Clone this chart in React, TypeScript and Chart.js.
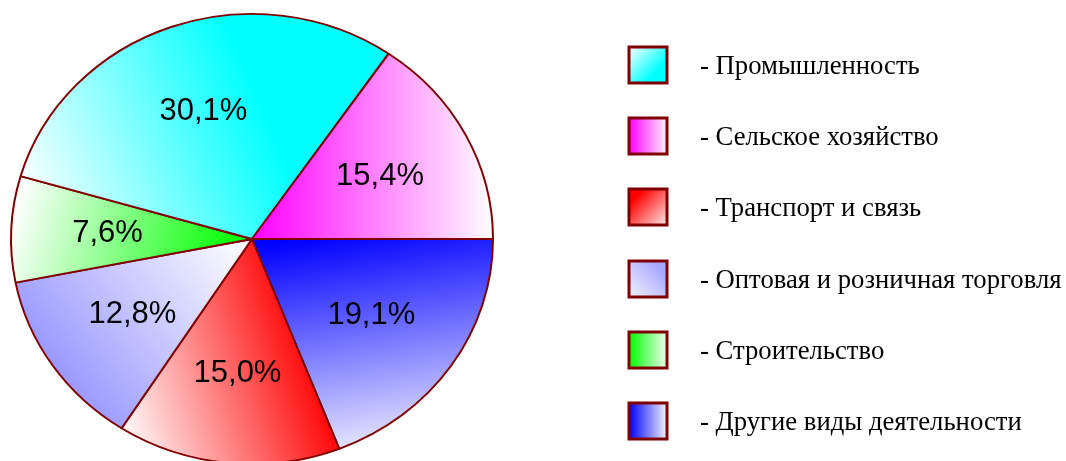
import React, { useEffect, useRef } from 'react';
import { Chart, registerables } from 'chart.js';

Chart.register(...registerables);

// ---- data (legend order) ----
const categories = [
  'Промышленность',
  'Сельское хозяйство',
  'Транспорт и связь',
  'Оптовая и розничная торговля',
  'Строительство',
  'Другие виды деятельности',
];
const shares = [30.1, 15.4, 15.0, 12.8, 7.6, 19.1];
// order in which slices are laid out clockwise from 3 o'clock
const pieOrder = [5, 2, 3, 4, 0, 1];

// ---- styles ----
const baseColors = ['#00FFFF', '#FF00FF', '#FF0000', '#9999FF', '#00FF00', '#0000FF'];
// slice gradients in units of the pie radius relative to centre: [u0, v0, c0, u1, v1, c1]
const sliceGradients: [number, number, string, number, number, string][] = [
  [-0.96, -0.22, '#FFFFFF', 0.03, -0.62, '#00FFFF'],
  [0.0, 0.0, '#FF00FF', 1.0, 0.0, '#FFFFFF'],
  [-0.53, 0.91, '#FFFFFF', 0.3, 0.65, '#FF0000'],
  [-0.05, 0.09, '#F8F8FF', -0.79, 0.62, '#9999FF'],
  [-0.96, -0.22, '#FFFFFF', -0.05, 0.0, '#00FF00'],
  [0.2, 0.0, '#0000FF', 0.36, 0.98, '#F0F0FF'],
];
// legend box gradients in box units: [x0, y0, c0, x1, y1, c1]
const boxGradients: [number, number, string, number, number, string][] = [
  [0, 0, '#FFFFFF', 0.7, 0.7, '#00FFFF'],
  [0, 0, '#FF00FF', 1, 0, '#FFF0FF'],
  [0.2, 0.2, '#FF0000', 1, 1, '#FFE8E8'],
  [0, 1, '#F4F4FF', 0.8, 0.2, '#A8A8FF'],
  [0, 0, '#00FF00', 1, 0, '#F0FFF0'],
  [0, 0, '#0000FF', 1, 0, '#F4F4FF'],
];

const W = 1066;
const H = 500;
const OFFSET_Y = 10; // canvas shifted up by this
const SY = 226 / 242; // vertical squash of the pie (ellipse)
const BORDER = '#800000';

function formatShare(v: number) {
  return v.toFixed(1).replace('.', ',') + '%';
}

export default function App() {
  const ref = useRef<HTMLCanvasElement | null>(null);

  useEffect(() => {
    const canvas = ref.current;
    if (!canvas) return;

    const pieValues = pieOrder.map((i) => shares[i]);
    const pieLabels = pieOrder.map((i) => categories[i]);

    const ellipsePlugin = {
      id: 'ellipsePie',
      beforeDatasetsDraw(chart: any) {
        const a = chart.chartArea;
        const cx = (a.left + a.right) / 2;
        const cy = (a.top + a.bottom) / 2;
        const ctx = chart.ctx;
        ctx.save();
        ctx.translate(cx, cy);
        ctx.scale(1, SY);
        ctx.translate(-cx, -cy);
      },
      afterDatasetsDraw(chart: any) {
        const ctx = chart.ctx;
        ctx.restore();
        const meta = chart.getDatasetMeta(0);
        ctx.save();
        ctx.fillStyle = '#000';
        ctx.font = '31px "Liberation Sans", Arial, sans-serif';
        ctx.textAlign = 'center';
        ctx.textBaseline = 'middle';
        meta.data.forEach((arc: any, k: number) => {
          const p = arc.getProps(['x', 'y', 'startAngle', 'endAngle', 'outerRadius'], true);
          const mid = (p.startAngle + p.endAngle) / 2;
          const r = p.outerRadius * 0.6;
          const x = p.x + r * Math.cos(mid);
          const y = p.y + r * Math.sin(mid) * SY;
          ctx.fillText(formatShare(pieValues[k]), x, y);
        });
        ctx.restore();
      },
      afterDraw(chart: any) {
        const ctx = chart.ctx;
        const bx = 629;
        const bw = 38;
        const bh = 36;
        const top0 = 47 + OFFSET_Y;
        const step = 71.2;
        ctx.save();
        categories.forEach((name, i) => {
          const by = Math.round(top0 + i * step);
          const g = boxGradients[i];
          const grad = ctx.createLinearGradient(bx + g[0] * bw, by + g[1] * bh, bx + g[3] * bw, by + g[4] * bh);
          grad.addColorStop(0, g[2]);
          grad.addColorStop(1, g[5]);
          ctx.fillStyle = grad;
          ctx.fillRect(bx, by, bw, bh);
          ctx.strokeStyle = BORDER;
          ctx.lineWidth = 3;
          ctx.strokeRect(bx, by, bw, bh);
          ctx.fillStyle = '#000';
          ctx.font = '26.7px "Liberation Serif", "Times New Roman", serif';
          ctx.textAlign = 'left';
          ctx.textBaseline = 'alphabetic';
          ctx.fillText('- ' + name, 700, by + bh / 2 + 9);
        });
        ctx.restore();
      },
    };

    const chart = new Chart(canvas, {
      type: 'pie',
      data: {
        labels: pieLabels,
        datasets: [
          {
            data: pieValues,
            borderColor: BORDER,
            borderWidth: 2,
            backgroundColor: (c: any) => {
              const chartRef = c.chart;
              const a = chartRef.chartArea;
              const idx = pieOrder[c.dataIndex];
              if (!a || idx === undefined) return baseColors[idx ?? 0];
              const cx = (a.left + a.right) / 2;
              const cy = (a.top + a.bottom) / 2;
              const R = Math.min(a.right - a.left, a.bottom - a.top) / 2;
              const g = sliceGradients[idx];
              const grad = chartRef.ctx.createLinearGradient(
                cx + g[0] * R,
                cy + g[1] * R,
                cx + g[3] * R,
                cy + g[4] * R
              );
              grad.addColorStop(0, g[2]);
              grad.addColorStop(1, g[5]);
              return grad;
            },
          },
        ],
      },
      options: {
        animation: false,
        responsive: false,
        devicePixelRatio: 1,
        rotation: 90,
        layout: { padding: { left: 10, right: W - 494, top: 7, bottom: H - 491 } },
        plugins: {
          legend: { display: false },
          tooltip: { enabled: false },
        },
        events: [],
      },
      plugins: [ellipsePlugin],
    });

    return () => chart.destroy();
  }, []);

  return (
    <div
      style={{
        position: 'fixed',
        left: 0,
        top: 0,
        width: W,
        height: 461,
        overflow: 'hidden',
        background: '#fff',
      }}
    >
      <div style={{ position: 'absolute', left: 0, top: -OFFSET_Y, width: W, height: H }}>
        <canvas ref={ref} width={W} height={H} style={{ width: W, height: H, display: 'block' }} />
      </div>
    </div>
  );
}
